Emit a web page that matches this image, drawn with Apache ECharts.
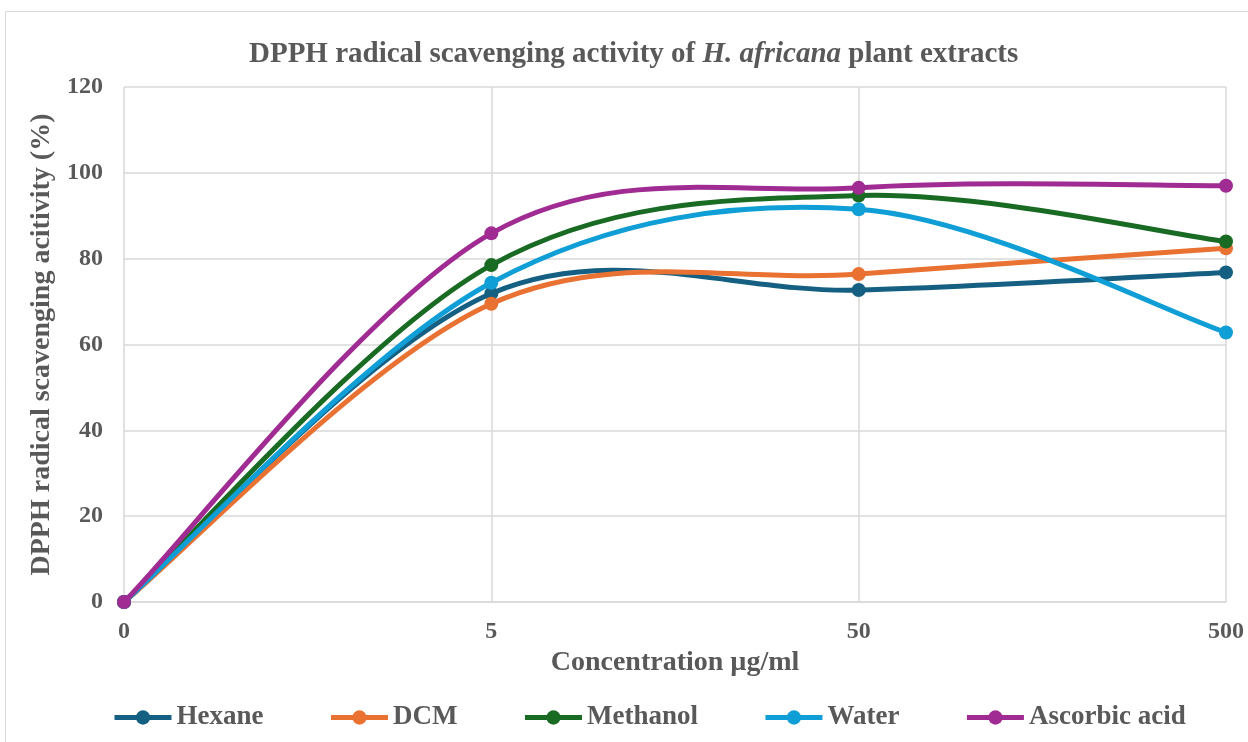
<!DOCTYPE html>
<html><head><meta charset="utf-8">
<script src="https://cdn.jsdelivr.net/npm/echarts@6/dist/echarts.min.js"></script>
<style>html,body{margin:0;padding:0;background:#fff}#c{width:1248px;height:742px}</style>
</head><body><div id="c"></div>
<script>
const categories = ['0', '5', '50', '500'];
const hexane = [0, 71.9, 72.7, 76.8];
const dcm = [0, 69.5, 76.4, 82.4];
const methanol = [0, 78.5, 94.7, 84.0];
const water = [0, 74.4, 91.5, 62.8];
const ascorbic = [0, 85.9, 96.5, 97.0];
const seriesNames = ['Hexane', 'DCM', 'Methanol', 'Water', 'Ascorbic acid'];
const colors = ['#156082', '#E97132', '#196B24', '#0F9ED5', '#A02B93'];
const yTicks = { min: 0, max: 120, interval: 20 };

const font = 'Liberation Serif, Times New Roman, serif';
const txt = '#595959';
const chart = echarts.init(document.getElementById('c'), null, { renderer: 'canvas' });
const data = [hexane, dcm, methanol, water, ascorbic];

// Excel-like smoothed curve (Catmull-Rom style Bezier) drawn through the axis scales
function makeRenderer(arr, color) {
  return function (params, api) {
    const i = params.dataIndex;
    if (i >= arr.length - 1) return null;
    const clampIdx = k => Math.max(0, Math.min(arr.length - 1, k));
    const pt = k => api.coord([clampIdx(k), arr[clampIdx(k)]]);
    const p0 = pt(i - 1), p1 = pt(i), p2 = pt(i + 1), p3 = pt(i + 2);
    const c1 = [p1[0] + (p2[0] - p0[0]) / 6, p1[1] + (p2[1] - p0[1]) / 6];
    const c2 = [p2[0] - (p3[0] - p1[0]) / 6, p2[1] - (p3[1] - p1[1]) / 6];
    return {
      type: 'bezierCurve',
      shape: { x1: p1[0], y1: p1[1], cpx1: c1[0], cpy1: c1[1], cpx2: c2[0], cpy2: c2[1], x2: p2[0], y2: p2[1] },
      style: { stroke: color, lineWidth: 5, fill: null, lineCap: 'round' },
      silent: true
    };
  };
}

const lineSeries = seriesNames.map((n, i) => ({
  name: n, type: 'line', data: data[i],
  symbol: 'circle', symbolSize: 14, z: 3 + i,
  lineStyle: { width: 5, color: colors[i], opacity: 0 },
  itemStyle: { color: colors[i] }
}));
const curveSeries = seriesNames.map((n, i) => ({
  name: n, type: 'custom', z: 3 + i,
  data: data[i].map((v, k) => [k, v]),
  renderItem: makeRenderer(data[i], colors[i])
}));

chart.setOption({
  animation: false,
  color: colors,
  title: {
    text: 'DPPH radical scavenging activity of {i|H. africana} plant extracts',
    left: 244, top: 35,
    textStyle: { fontFamily: font, fontSize: 29, fontWeight: 'bold', color: txt,
      rich: { i: { fontFamily: font, fontSize: 29, fontWeight: 'bold', fontStyle: 'italic', color: txt } } }
  },
  graphic: [{ type: 'rect', shape: { x: 5.5, y: 11.5, width: 1260, height: 760 }, style: { fill: 'none', stroke: '#d9d9d9', lineWidth: 1 } }],
  grid: { left: 124, right: 22, top: 87, bottom: 140 },
  legend: {
    data: seriesNames,
    bottom: 6, left: 107, itemWidth: 57, itemHeight: 18, itemGap: 65,
    lineStyle: { opacity: 1, width: 5 },
    textStyle: { fontFamily: font, fontSize: 27, fontWeight: 'bold', color: txt }
  },
  xAxis: {
    type: 'category', data: categories, boundaryGap: false,
    name: 'Concentration µg/ml', nameLocation: 'middle', nameGap: 45,
    nameTextStyle: { fontFamily: font, fontSize: 28, fontWeight: 'bold', color: txt },
    axisLine: { lineStyle: { color: '#d9d9d9', width: 1.5 } },
    axisTick: { show: false },
    axisLabel: { fontFamily: font, fontSize: 24, fontWeight: 'bold', color: txt, margin: 18 },
    splitLine: { show: true, lineStyle: { color: '#d9d9d9', width: 1.5 } }
  },
  yAxis: {
    type: 'value', min: yTicks.min, max: yTicks.max, interval: yTicks.interval,
    name: 'DPPH radical scavenging acitivity (%)', nameLocation: 'middle', nameGap: 60,
    nameTextStyle: { fontFamily: font, fontSize: 28, fontWeight: 'bold', color: txt },
    axisLine: { show: false }, axisTick: { show: false },
    axisLabel: { fontFamily: font, fontSize: 24, fontWeight: 'bold', color: txt, margin: 21 },
    splitLine: { lineStyle: { color: '#d9d9d9', width: 1.5 } }
  },
  series: lineSeries.concat(curveSeries)
});
</script></body></html>
